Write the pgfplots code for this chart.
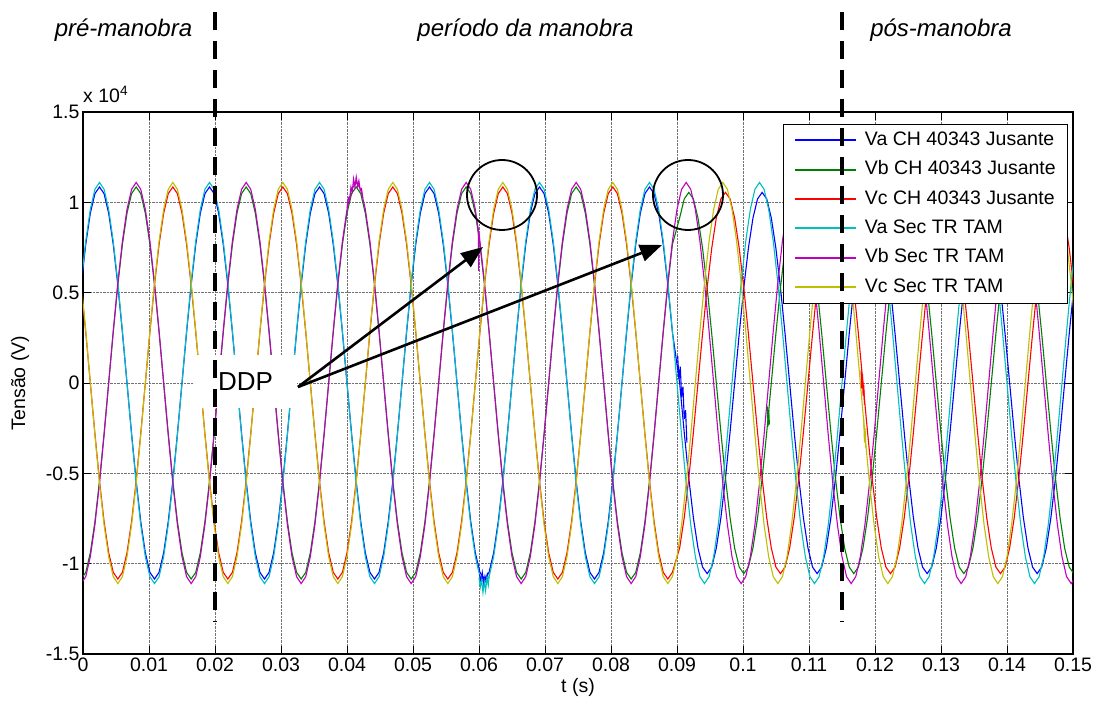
\documentclass[border=0pt]{standalone}
\usepackage{fontspec}
\setmainfont{Liberation Sans}
\usepackage{pgfplots}
\usepackage{pgfplotstable}
\pgfplotsset{compat=1.18}
\usetikzlibrary{arrows.meta,calc}

\definecolor{mblue}{rgb}{0,0,1}
\definecolor{mgreen}{rgb}{0,0.5,0}
\definecolor{mred}{rgb}{1,0,0}
\definecolor{mcyan}{rgb}{0,0.75,0.75}
\definecolor{mmag}{rgb}{0.75,0,0.75}
\definecolor{myel}{rgb}{0.75,0.75,0}

\newcommand{\tickfont}{\fontsize{19.5}{22}\selectfont}

% Sec TR TAM: phase voltages (V)
\pgfplotstableread{
t a b c
-0.000278 5550 -11100 5550
0.000417 7849 -10722 2873
0.001111 9613 -9613 0
0.001806 10722 -7849 -2873
0.0025 11100 -5550 -5550
0.003194 10722 -2873 -7849
0.003889 9613 0 -9613
0.004583 7849 2873 -10722
0.005278 5550 5550 -11100
0.005972 2873 7849 -10722
0.006667 0 9613 -9613
0.007361 -2873 10722 -7849
0.008056 -5550 11100 -5550
0.00875 -7849 10722 -2873
0.009444 -9613 9613 0
0.010139 -10722 7849 2873
0.010833 -11100 5550 5550
0.011528 -10722 2873 7849
0.012222 -9613 0 9613
0.012917 -7849 -2873 10722
0.013611 -5550 -5550 11100
0.014306 -2873 -7849 10722
0.015 0 -9613 9613
0.015694 2873 -10722 7849
0.016389 5550 -11100 5550
0.017083 7849 -10722 2873
0.017778 9613 -9613 0
0.018472 10722 -7849 -2873
0.019167 11100 -5550 -5550
0.019861 10722 -2873 -7849
0.020556 9613 0 -9613
0.02125 7849 2873 -10722
0.021944 5550 5550 -11100
0.022639 2873 7849 -10722
0.023333 0 9613 -9613
0.024028 -2873 10722 -7849
0.024722 -5550 11100 -5550
0.025417 -7849 10722 -2873
0.026111 -9613 9613 0
0.026806 -10722 7849 2873
0.0275 -11100 5550 5550
0.028194 -10722 2873 7849
0.028889 -9613 0 9613
0.029583 -7849 -2873 10722
0.030278 -5550 -5550 11100
0.030972 -2873 -7849 10722
0.031667 0 -9613 9613
0.032361 2873 -10722 7849
0.033056 5550 -11100 5550
0.03375 7849 -10722 2873
0.034444 9613 -9613 0
0.035139 10722 -7849 -2873
0.035833 11100 -5550 -5550
0.036528 10722 -2873 -7849
0.037222 9613 0 -9613
0.037917 7849 2873 -10722
0.038611 5550 5550 -11100
0.039306 2873 7849 -10722
0.04 0 9613 -9613
0.040694 -2873 10722 -7849
0.041389 -5550 11100 -5550
0.042083 -7849 10722 -2873
0.042778 -9613 9613 0
0.043472 -10722 7849 2873
0.044167 -11100 5550 5550
0.044861 -10722 2873 7849
0.045556 -9613 0 9613
0.04625 -7849 -2873 10722
0.046944 -5550 -5550 11100
0.047639 -2873 -7849 10722
0.048333 0 -9613 9613
0.049028 2873 -10722 7849
0.049722 5550 -11100 5550
0.050417 7849 -10722 2873
0.051111 9613 -9613 0
0.051806 10722 -7849 -2873
0.0525 11100 -5550 -5550
0.053194 10722 -2873 -7849
0.053889 9613 0 -9613
0.054583 7849 2873 -10722
0.055278 5550 5550 -11100
0.055972 2873 7849 -10722
0.056667 0 9613 -9613
0.057361 -2873 10722 -7849
0.058056 -5550 11100 -5550
0.05875 -7849 10722 -2873
0.059444 -9613 9613 0
0.060139 -10722 7849 2873
0.060833 -11100 5550 5550
0.061528 -10722 2873 7849
0.062222 -9613 0 9613
0.062917 -7849 -2873 10722
0.063611 -5550 -5550 11100
0.064306 -2873 -7849 10722
0.065 0 -9613 9613
0.065694 2873 -10722 7849
0.066389 5550 -11100 5550
0.067083 7849 -10722 2873
0.067778 9613 -9613 0
0.068472 10722 -7849 -2873
0.069167 11100 -5550 -5550
0.069861 10722 -2873 -7849
0.070556 9613 0 -9613
0.07125 7849 2873 -10722
0.071944 5550 5550 -11100
0.072639 2873 7849 -10722
0.073333 0 9613 -9613
0.074028 -2873 10722 -7849
0.074722 -5550 11100 -5550
0.075417 -7849 10722 -2873
0.076111 -9613 9613 0
0.076806 -10722 7849 2873
0.0775 -11100 5550 5550
0.078194 -10722 2873 7849
0.078889 -9613 0 9613
0.079583 -7849 -2873 10722
0.080278 -5550 -5550 11100
0.080972 -2873 -7849 10722
0.081667 0 -9613 9613
0.082361 2873 -10722 7849
0.083056 5550 -11100 5550
0.08375 7849 -10722 2873
0.084444 9613 -9613 0
0.085139 10722 -7849 -2873
0.085833 11100 -5550 -5550
0.086528 10722 -2873 -7849
0.087222 9613 0 -9613
0.087917 7849 2873 -10722
0.088611 5550 5550 -11100
0.089306 2873 7849 -10722
0.09 0 9613 -9613
0.090694 -2873 10722 -7849
0.091389 -5550 11100 -5550
0.092083 -7849 10722 -2873
0.092778 -9613 9613 0
0.093472 -10722 7849 2873
0.094167 -11100 5550 5550
0.094861 -10722 2873 7849
0.095556 -9613 0 9613
0.09625 -7849 -2873 10722
0.096944 -5550 -5550 11100
0.097639 -2873 -7849 10722
0.098333 0 -9613 9613
0.099028 2873 -10722 7849
0.099722 5550 -11100 5550
0.100417 7849 -10722 2873
0.101111 9613 -9613 0
0.101806 10722 -7849 -2873
0.1025 11100 -5550 -5550
0.103194 10722 -2873 -7849
0.103889 9613 0 -9613
0.104583 7849 2873 -10722
0.105278 5550 5550 -11100
0.105972 2873 7849 -10722
0.106667 0 9613 -9613
0.107361 -2873 10722 -7849
0.108056 -5550 11100 -5550
0.10875 -7849 10722 -2873
0.109444 -9613 9613 0
0.110139 -10722 7849 2873
0.110833 -11100 5550 5550
0.111528 -10722 2873 7849
0.112222 -9613 0 9613
0.112917 -7849 -2873 10722
0.113611 -5550 -5550 11100
0.114306 -2873 -7849 10722
0.115 0 -9613 9613
0.115694 2873 -10722 7849
0.116389 5550 -11100 5550
0.117083 7849 -10722 2873
0.117778 9613 -9613 0
0.118472 10722 -7849 -2873
0.119167 11100 -5550 -5550
0.119861 10722 -2873 -7849
0.120556 9613 0 -9613
0.12125 7849 2873 -10722
0.121944 5550 5550 -11100
0.122639 2873 7849 -10722
0.123333 0 9613 -9613
0.124028 -2873 10722 -7849
0.124722 -5550 11100 -5550
0.125417 -7849 10722 -2873
0.126111 -9613 9613 0
0.126806 -10722 7849 2873
0.1275 -11100 5550 5550
0.128194 -10722 2873 7849
0.128889 -9613 0 9613
0.129583 -7849 -2873 10722
0.130278 -5550 -5550 11100
0.130972 -2873 -7849 10722
0.131667 0 -9613 9613
0.132361 2873 -10722 7849
0.133056 5550 -11100 5550
0.13375 7849 -10722 2873
0.134444 9613 -9613 0
0.135139 10722 -7849 -2873
0.135833 11100 -5550 -5550
0.136528 10722 -2873 -7849
0.137222 9613 0 -9613
0.137917 7849 2873 -10722
0.138611 5550 5550 -11100
0.139306 2873 7849 -10722
0.14 0 9613 -9613
0.140694 -2873 10722 -7849
0.141389 -5550 11100 -5550
0.142083 -7849 10722 -2873
0.142778 -9613 9613 0
0.143472 -10722 7849 2873
0.144167 -11100 5550 5550
0.144861 -10722 2873 7849
0.145556 -9613 0 9613
0.14625 -7849 -2873 10722
0.146944 -5550 -5550 11100
0.147639 -2873 -7849 10722
0.148333 0 -9613 9613
0.149028 2873 -10722 7849
0.149722 5550 -11100 5550
0.150417 7849 -10722 2873
}\tabTAM

% CH 40343 Jusante: phase voltages (V)
\pgfplotstableread{
t a b c
-0.000278 5425 -10850 5425
0.000417 7672 -10480 2808
0.001111 9396 -9396 0
0.001806 10480 -7672 -2808
0.0025 10850 -5425 -5425
0.003194 10480 -2808 -7672
0.003889 9396 0 -9396
0.004583 7672 2808 -10480
0.005278 5425 5425 -10850
0.005972 2808 7672 -10480
0.006667 0 9396 -9396
0.007361 -2808 10480 -7672
0.008056 -5425 10850 -5425
0.00875 -7672 10480 -2808
0.009444 -9396 9396 0
0.010139 -10480 7672 2808
0.010833 -10850 5425 5425
0.011528 -10480 2808 7672
0.012222 -9396 0 9396
0.012917 -7672 -2808 10480
0.013611 -5425 -5425 10850
0.014306 -2808 -7672 10480
0.015 0 -9396 9396
0.015694 2808 -10480 7672
0.016389 5425 -10850 5425
0.017083 7672 -10480 2808
0.017778 9396 -9396 0
0.018472 10480 -7672 -2808
0.019167 10850 -5425 -5425
0.019861 10480 -2808 -7672
0.020556 9396 0 -9396
0.02125 7672 2808 -10480
0.021944 5425 5425 -10850
0.022639 2808 7672 -10480
0.023333 0 9396 -9396
0.024028 -2808 10480 -7672
0.024722 -5425 10850 -5425
0.025417 -7672 10480 -2808
0.026111 -9396 9396 0
0.026806 -10480 7672 2808
0.0275 -10850 5425 5425
0.028194 -10480 2808 7672
0.028889 -9396 0 9396
0.029583 -7672 -2808 10480
0.030278 -5425 -5425 10850
0.030972 -2808 -7672 10480
0.031667 0 -9396 9396
0.032361 2808 -10480 7672
0.033056 5425 -10850 5425
0.03375 7672 -10480 2808
0.034444 9396 -9396 0
0.035139 10480 -7672 -2808
0.035833 10850 -5425 -5425
0.036528 10480 -2808 -7672
0.037222 9396 0 -9396
0.037917 7672 2808 -10480
0.038611 5425 5425 -10850
0.039306 2808 7672 -10480
0.04 0 9396 -9396
0.040694 -2808 10480 -7672
0.041389 -5425 10850 -5425
0.042083 -7672 10480 -2808
0.042778 -9396 9396 0
0.043472 -10480 7672 2808
0.044167 -10850 5425 5425
0.044861 -10480 2808 7672
0.045556 -9396 0 9396
0.04625 -7672 -2808 10480
0.046944 -5425 -5425 10850
0.047639 -2808 -7672 10480
0.048333 0 -9396 9396
0.049028 2808 -10480 7672
0.049722 5425 -10850 5425
0.050417 7672 -10480 2808
0.051111 9396 -9396 0
0.051806 10480 -7672 -2808
0.0525 10850 -5425 -5425
0.053194 10480 -2808 -7672
0.053889 9396 0 -9396
0.054583 7672 2808 -10480
0.055278 5425 5425 -10850
0.055972 2808 7672 -10480
0.056667 0 9396 -9396
0.057361 -2808 10480 -7672
0.058056 -5425 10850 -5425
0.05875 -7672 10480 -2808
0.059444 -9396 9396 0
0.060139 -10480 7672 2808
0.060833 -10850 5425 5425
0.061528 -10480 2808 7672
0.062222 -9396 0 9396
0.062917 -7672 -2808 10480
0.063611 -5425 -5425 10850
0.064306 -2808 -7672 10480
0.065 0 -9396 9396
0.065694 2808 -10480 7672
0.066389 5425 -10850 5425
0.067083 7672 -10480 2808
0.067778 9396 -9396 0
0.068472 10480 -7672 -2808
0.069167 10850 -5425 -5425
0.069861 10480 -2808 -7672
0.070556 9396 0 -9396
0.07125 7672 2808 -10480
0.071944 5425 5425 -10850
0.072639 2808 7672 -10480
0.073333 0 9396 -9396
0.074028 -2808 10480 -7672
0.074722 -5425 10850 -5425
0.075417 -7672 10480 -2808
0.076111 -9396 9396 0
0.076806 -10480 7672 2808
0.0775 -10850 5425 5425
0.078194 -10480 2808 7672
0.078889 -9396 0 9396
0.079583 -7672 -2808 10480
0.080278 -5425 -5425 10850
0.080972 -2808 -7672 10480
0.081667 0 -9396 9396
0.082361 2808 -10480 7672
0.083056 5425 -10850 5425
0.08375 7672 -10480 2808
0.084444 9396 -9396 0
0.085139 10480 -7672 -2808
0.085833 10850 -5425 -5425
0.086528 10480 -2808 -7672
0.087222 9396 0 -9396
0.087917 7672 2808 -10480
0.088611 5425 5425 -10850
0.089306 2808 7672 -10480
0.0904 0 9136 -9136
0.091094 -2730 10190 -7460
0.091789 -5275 10550 -5275
0.092483 -7460 10190 -2730
0.093178 -9136 9136 0
0.093872 -10190 7460 2730
0.094567 -10550 5275 5275
0.095261 -10190 2730 7460
0.095956 -9136 0 9136
0.09665 -7460 -2730 10190
0.097344 -5275 -5275 10550
0.098039 -2730 -7460 10190
0.098733 0 -9136 9136
0.099428 2730 -10190 7460
0.100122 5275 -10550 5275
0.100817 7460 -10190 2730
0.101511 9136 -9136 0
0.102206 10190 -7460 -2730
0.1029 10550 -5275 -5275
0.103594 10190 -2730 -7460
0.104289 9136 0 -9136
0.104983 7460 2730 -10190
0.105678 5275 5275 -10550
0.106372 2730 7460 -10190
0.107067 0 9136 -9136
0.107761 -2730 10190 -7460
0.108456 -5275 10550 -5275
0.10915 -7460 10190 -2730
0.109844 -9136 9136 0
0.110539 -10190 7460 2730
0.111233 -10550 5275 5275
0.111928 -10190 2730 7460
0.112622 -9136 0 9136
0.113317 -7460 -2730 10190
0.114011 -5275 -5275 10550
0.114706 -2730 -7460 10190
0.1154 0 -9136 9136
0.116094 2730 -10190 7460
0.116789 5275 -10550 5275
0.117483 7460 -10190 2730
0.118178 9136 -9136 0
0.118872 10190 -7460 -2730
0.119567 10550 -5275 -5275
0.120261 10190 -2730 -7460
0.120956 9136 0 -9136
0.12165 7460 2730 -10190
0.122344 5275 5275 -10550
0.123039 2730 7460 -10190
0.123733 0 9136 -9136
0.124428 -2730 10190 -7460
0.125122 -5275 10550 -5275
0.125817 -7460 10190 -2730
0.126511 -9136 9136 0
0.127206 -10190 7460 2730
0.1279 -10550 5275 5275
0.128594 -10190 2730 7460
0.129289 -9136 0 9136
0.129983 -7460 -2730 10190
0.130678 -5275 -5275 10550
0.131372 -2730 -7460 10190
0.132067 0 -9136 9136
0.132761 2730 -10190 7460
0.133456 5275 -10550 5275
0.13415 7460 -10190 2730
0.134844 9136 -9136 0
0.135539 10190 -7460 -2730
0.136233 10550 -5275 -5275
0.136928 10190 -2730 -7460
0.137622 9136 0 -9136
0.138317 7460 2730 -10190
0.139011 5275 5275 -10550
0.139706 2730 7460 -10190
0.1404 0 9136 -9136
0.141094 -2730 10190 -7460
0.141789 -5275 10550 -5275
0.142483 -7460 10190 -2730
0.143178 -9136 9136 0
0.143872 -10190 7460 2730
0.144567 -10550 5275 5275
0.145261 -10190 2730 7460
0.145956 -9136 0 9136
0.14665 -7460 -2730 10190
0.147344 -5275 -5275 10550
0.148039 -2730 -7460 10190
0.148733 0 -9136 9136
0.149428 2730 -10190 7460
0.150122 5275 -10550 5275
0.150817 7460 -10190 2730
}\tabCH

\begin{document}
\begin{tikzpicture}
\begin{axis}[
  scale only axis, width=990pt, height=542pt,
  xmin=0, xmax=0.15, ymin=-15000, ymax=15000,
  scaled x ticks=false, scaled y ticks=false,
  xtick={0,0.01,0.02,0.03,0.04,0.05,0.06,0.07,0.08,0.09,0.1,0.11,0.12,0.13,0.14,0.15},
  xticklabels={0,0.01,0.02,0.03,0.04,0.05,0.06,0.07,0.08,0.09,0.1,0.11,0.12,0.13,0.14,0.15},
  ytick={-15000,-10000,-5000,0,5000,10000,15000},
  yticklabels={-1.5,-1,-0.5,0,0.5,1,1.5},
  tick align=inside, tick pos=both, major tick length=8pt,
  tick style={black, line width=0.8pt},
  grid=major, major grid style={densely dotted, black!55, line width=0.8pt},
  axis line style={black, line width=1.2pt},
  ticklabel style={font=\tickfont},
  xlabel={t (s)}, ylabel={Tensão (V)},
  label style={font=\tickfont},
  ylabel style={at={(axis description cs:-0.0636,0.5)}, anchor=center},
  legend style={
    at={(rel axis cs:0.9939,0.9779)}, anchor=north east,
    fill=white, font=\tickfont, inner xsep=11pt, inner ysep=7pt,
    row sep=10.8pt, column sep=7.7pt,
    nodes={inner sep=0pt, text height=14.5pt, text depth=4pt},
    cells={anchor=west},
  },
  legend image code/.code={\draw[#1, line width=2pt] (0pt,0pt) -- (61pt,0pt);},
  every axis plot/.append style={line width=1.1pt},
]
\coordinate (O) at (rel axis cs:0,0);

\addplot[mblue]  table[x=t, y=a] {\tabCH};
\addplot[mgreen] table[x=t, y=b] {\tabCH};
\addplot[mred]   table[x=t, y=c] {\tabCH};
\addplot[mcyan]  table[x=t, y=a] {\tabTAM};
\addplot[mmag]   table[x=t, y=b] {\tabTAM};
\addplot[myel]   table[x=t, y=c] {\tabTAM};

% switching disturbances
\addplot[mmag, forget plot] coordinates {
 (0.0400,9700) (0.0402,10250) (0.0404,10100) (0.0406,10850) (0.0408,10600)
 (0.0410,11300) (0.0412,10850) (0.0414,11400) (0.0416,10900) (0.0418,11200)
 (0.0420,10650) (0.0422,10750) (0.0424,10250)};
\addplot[mmag, forget plot] coordinates {
 (0.05980,8650) (0.05990,8450) (0.05995,6200) (0.06000,8300) (0.06010,7950)};
\addplot[mblue, forget plot] coordinates {
 (0.0601,-10600) (0.0603,-11000) (0.0605,-10500) (0.0607,-11100)
 (0.0609,-10700) (0.0611,-11000) (0.0613,-10500)};
\addplot[mcyan, forget plot] coordinates {
 (0.0600,-10800) (0.0602,-11300) (0.0604,-10900) (0.0606,-11600) (0.0608,-11000)
 (0.0610,-11500) (0.0612,-10800) (0.0614,-11200) (0.0616,-10500)};
\addplot[mblue, forget plot] coordinates {
 (0.0901,1500) (0.0903,200) (0.0905,900) (0.0907,-800) (0.0909,-200)
 (0.0911,-2000) (0.0913,-1500) (0.0915,-3300)};
\addplot[mgreen, forget plot] coordinates {
 (0.1037,-1300) (0.1038,-2400) (0.1039,-1500) (0.1040,-2300)};
\addplot[mred, forget plot] coordinates {
 (0.1179,700) (0.1180,-300) (0.1181,500) (0.1182,-700) (0.1183,-100) (0.1184,-1200)};
\addplot[myel, forget plot] coordinates {
 (0.1183,-2000) (0.1184,-3300) (0.1185,-2500) (0.1186,-3600)};

\legend{Va CH 40343 Jusante, Vb CH 40343 Jusante, Vc CH 40343 Jusante,
        Va Sec TR TAM, Vb Sec TR TAM, Vc Sec TR TAM}
\end{axis}

\begin{scope}[shift={(O)}]
  % exponent of the voltage axis
  \node[anchor=base west, inner sep=0pt, font=\tickfont] at (0pt,551pt) {x 10\textsuperscript{4}};
  % stage titles
  \node[anchor=base, inner sep=0pt, font=\fontsize{24}{28}\selectfont\itshape] at (40.5pt,617pt) {pré-manobra};
  \node[anchor=base, inner sep=0pt, font=\fontsize{24}{28}\selectfont\itshape] at (442.5pt,617pt) {período da manobra};
  \node[anchor=base, inner sep=0pt, font=\fontsize{24}{28}\selectfont\itshape] at (858pt,617pt) {pós-manobra};
  % label box
  \node[fill=white, minimum width=103pt, minimum height=53pt, inner sep=0pt,
        font=\fontsize{26}{30}\selectfont] at (162.5pt,272.5pt) {DDP};
  % arrows and circles
  \draw[line width=2.6pt, -{Triangle[length=22pt,width=17pt]}] (215pt,267pt) -- (400pt,407pt);
  \draw[line width=2.6pt, -{Triangle[length=22pt,width=17pt]}] (215pt,267pt) -- (579pt,409pt);
  \draw[line width=1.8pt] (419pt,459pt) circle (35pt);
  \draw[line width=1.8pt] (605pt,459pt) circle (35pt);
  % switching instants
  \draw[line width=4.2pt, dash pattern=on 18pt off 11pt] (132pt,642pt) -- (132pt,32pt);
  \draw[line width=4.2pt, dash pattern=on 18pt off 11pt] (759pt,642pt) -- (759pt,32pt);
\end{scope}

\pgfresetboundingbox
\path[use as bounding box] ($(O)+(-83pt,-54pt)$) rectangle ($(O)+(1013pt,654pt)$);
\end{tikzpicture}
\end{document}
